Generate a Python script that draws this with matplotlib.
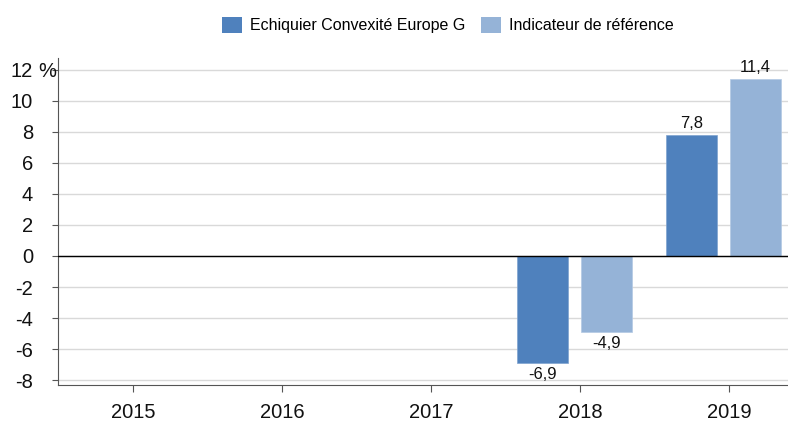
import matplotlib
matplotlib.use("Agg")
import matplotlib.pyplot as plt
import numpy as np
from matplotlib.patches import Patch

plt.rcParams['font.family'] = ['Liberation Sans', 'DejaVu Sans']

years = ['2015', '2016', '2017', '2018', '2019']
fund = [np.nan, np.nan, np.nan, -6.9, 7.8]
bench = [np.nan, np.nan, np.nan, -4.9, 11.4]
series_names = ['Echiquier Convexité Europe G', 'Indicateur de référence']
yticks = [-8, -6, -4, -2, 0, 2, 4, 6, 8, 10, 12]

c_dark = '#4f81bd'
c_light = '#95b3d7'

fig = plt.figure(figsize=(7.88, 4.21), dpi=100)
ax = fig.add_axes([58/788, 36/421, 730/788, 327/421])

x = np.arange(len(years))
w = 0.345
shift = -0.037
off = 0.215
ax.bar(x + shift - off, fund, w, color=c_dark, edgecolor='#7fa3d0', linewidth=0.5, zorder=3)
ax.bar(x + shift + off, bench, w, color=c_light, edgecolor='#b3c9e4', linewidth=0.5, zorder=3)

def fmt(v):
    return f"{v:.1f}".replace('.', ',')

for xs, vals in ((x + shift - off, fund), (x + shift + off, bench)):
    for xi, v in zip(xs, vals):
        if not np.isnan(v):
            ax.annotate(fmt(v), (xi, v), xytext=(0, 3 if v > 0 else -3), textcoords='offset points',
                        ha='center', va='bottom' if v > 0 else 'top', fontsize=12, color='#111111')

ax.set_xlim(-0.503, 4.396)
ax.set_ylim(-8.32, 12.77)
ax.set_yticks(yticks)
ax.set_yticklabels([str(t) for t in yticks])
ax.set_xticks(x)
ax.set_xticklabels(years)

ax.annotate('%', (0, 12), xycoords=('axes fraction', 'data'), xytext=(-14, 0),
            textcoords='offset points', ha='left', va='center_baseline', fontsize=14.5, color='#111111')

for t in yticks:
    ax.axhline(t, color='#d9d9d9', linewidth=1, zorder=1)
ax.axhline(0, color='black', linewidth=1, zorder=4)

for s in ['top', 'right']:
    ax.spines[s].set_visible(False)
ax.spines['left'].set_color('#555555')
ax.spines['bottom'].set_color('#555555')
ax.tick_params(axis='y', length=4, pad=14, labelsize=14.5, color='#555555', labelcolor='#111111')
ax.tick_params(axis='x', length=5, pad=8, labelsize=14.5, color='#555555', labelcolor='#111111')

handles = [Patch(facecolor=c_dark, edgecolor='none'), Patch(facecolor=c_light, edgecolor='none')]
fig.legend(handles, series_names, loc='center', bbox_to_anchor=(448/788, 1 - 25/421),
           ncol=2, frameon=False, fontsize=11.5, handlelength=1.25, handleheight=1.25,
           handletextpad=0.5, columnspacing=1.0)

fig.savefig('out.png', dpi=100)
